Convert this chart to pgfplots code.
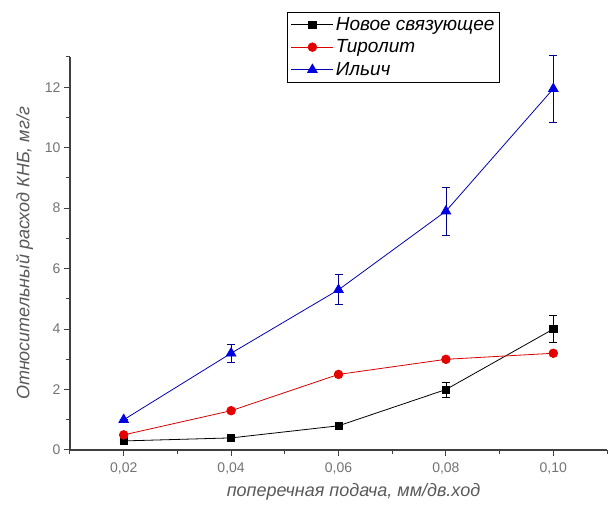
\documentclass[border=0pt]{standalone}
\usepackage{pgfplots}
\pgfplotsset{compat=1.18}
\usepackage{fontspec}
\setmainfont{Liberation Sans}
\begin{document}
\begin{tikzpicture}
\useasboundingbox (-70pt,-58pt) rectangle (538pt,450pt);
\begin{axis}[
  at={(0pt,0pt)}, anchor=south west,
  scale only axis, width=537pt, height=393pt,
  xmin=0.01, xmax=0.11, ymin=0, ymax=13,
  axis x line=bottom, axis y line=left,
  axis line style={-, line width=1.1pt, black!75},
  tick align=outside,
  major tick length=6pt, minor tick length=4pt,
  every tick/.style={black!75, line width=1pt},
  xtick={0.02,0.04,0.06,0.08,0.10},
  minor xtick={0.01,0.03,0.05,0.07,0.09,0.11},
  ytick={0,2,4,6,8,10,12},
  minor ytick={1,3,5,7,9,11,13},
  xticklabel style={yshift=-3pt, /pgf/number format/.cd, use comma, fixed, fixed zerofill, precision=2},
  /pgf/number format/assume math mode=true,
  tick label style={font=\fontsize{14}{16}\selectfont, text=black!55},
  xlabel={\itshape поперечная подача, мм/дв.ход},
  ylabel={\itshape Относительный расход КНБ, мг/г},
  label style={font=\fontsize{18}{20}\selectfont, text=black!65},
  xlabel style={xshift=15pt, yshift=-2pt},
  ylabel style={yshift=5pt},
  legend style={at={(rel axis cs:0.405,1.115)}, anchor=north west,
    font=\fontsize{19}{21}\selectfont\itshape, draw=black, line width=1pt,
    row sep=4pt, inner sep=3pt, legend cell align=left},
  legend image code/.code={\draw[mark repeat=2,mark phase=2,#1] plot coordinates {(0pt,0pt) (21pt,0pt) (42pt,0pt)};},
  clip=false,
]
\addplot[black, line width=0.8pt, mark=square*, mark size=3.6pt,
  error bars/.cd, y dir=both, y explicit, error bar style={black, line width=0.8pt}, error mark options={rotate=90, mark size=4pt, line width=0.8pt}]
  table[x=x, y=y, y error=e] {
  x y e
  0.02 0.3 0
  0.04 0.4 0
  0.06 0.8 0
  0.08 2.0 0.25
  0.10 4.0 0.45
};
\addlegendentry{Новое связующее}
\addplot[red!85!black, line width=0.8pt, mark=*, mark size=4.3pt, mark options={fill=red!90!black, draw=red!90!black}]
  table[x=x, y=y] {
  x y
  0.02 0.5
  0.04 1.3
  0.06 2.5
  0.08 3.0
  0.10 3.2
};
\addlegendentry{Тиролит}
\addplot[blue!70!black, line width=0.8pt, mark=triangle*, mark size=5.5pt, mark options={fill=blue!90!black, draw=blue!90!black},
  error bars/.cd, y dir=both, y explicit, error bar style={blue!55!black, line width=0.8pt}, error mark options={rotate=90, mark size=4pt, line width=0.8pt, draw=blue!55!black}]
  table[x=x, y=y, y error=e] {
  x y e
  0.02 1.0 0
  0.04 3.2 0.3
  0.06 5.3 0.5
  0.08 7.9 0.8
  0.10 11.95 1.1
};
\addlegendentry{Ильич}
\end{axis}
\end{tikzpicture}
\end{document}
